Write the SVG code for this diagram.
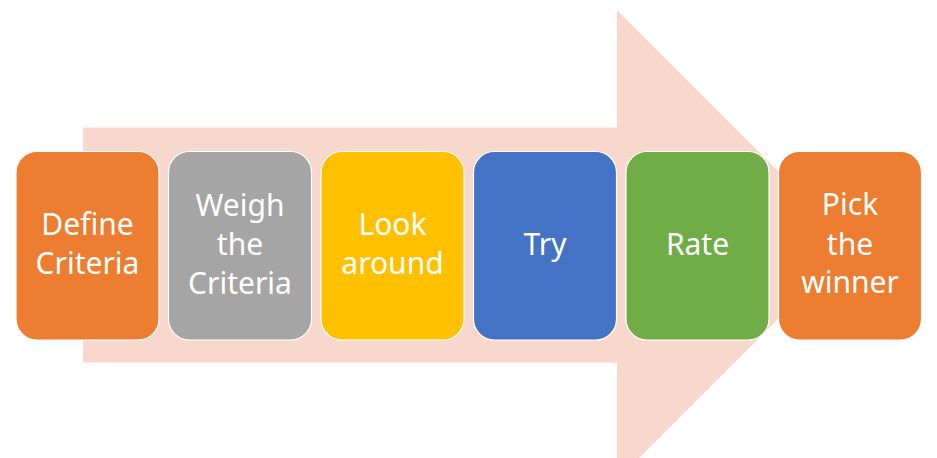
<svg xmlns="http://www.w3.org/2000/svg" width="937" height="458" viewBox="0 0 937 458">
<style>
.box{stroke:#FFFFFF;stroke-width:1.2}
.t{font-family:"Noto Sans","Open Sans",sans-serif;font-size:30px;fill:#FFFFFF;text-anchor:middle}
</style>
<rect width="937" height="458" fill="#FFFFFF"/>
<g id="arrow">
<polygon points="83,127.5 617,127.5 617,10 852,245 617,480 617,362.5 83,362.5" fill="#F8D8CD"/>
</g>
<g id="connectors"></g>
<g id="node1">
<rect class="box" x="16" y="151.5" width="143" height="188.5" rx="21" fill="#ED7D31"/>
<text class="t" x="87.5" y="235">Define</text>
<text class="t" x="87.5" y="274">Criteria</text>
</g>
<g id="node2">
<rect class="box" x="168.5" y="151.5" width="143" height="188.5" rx="21" fill="#A5A5A5"/>
<text class="t" x="240" y="216">Weigh</text>
<text class="t" x="240" y="255">the</text>
<text class="t" x="240" y="294">Criteria</text>
</g>
<g id="node3">
<rect class="box" x="321" y="151.5" width="143" height="188.5" rx="21" fill="#FFC000"/>
<text class="t" x="392.5" y="235">Look</text>
<text class="t" x="392.5" y="274">around</text>
</g>
<g id="node4">
<rect class="box" x="473.5" y="151.5" width="143" height="188.5" rx="21" fill="#4472C4"/>
<text class="t" x="545" y="255">Try</text>
</g>
<g id="node5">
<rect class="box" x="626" y="151.5" width="143" height="188.5" rx="21" fill="#70AD47"/>
<text class="t" x="697.5" y="255">Rate</text>
</g>
<g id="node6">
<rect class="box" x="778.5" y="151.5" width="143" height="188.5" rx="21" fill="#ED7D31"/>
<text class="t" x="850" y="215">Pick</text>
<text class="t" x="850" y="255">the</text>
<text class="t" x="850" y="293">winner</text>
</g>
</svg>
